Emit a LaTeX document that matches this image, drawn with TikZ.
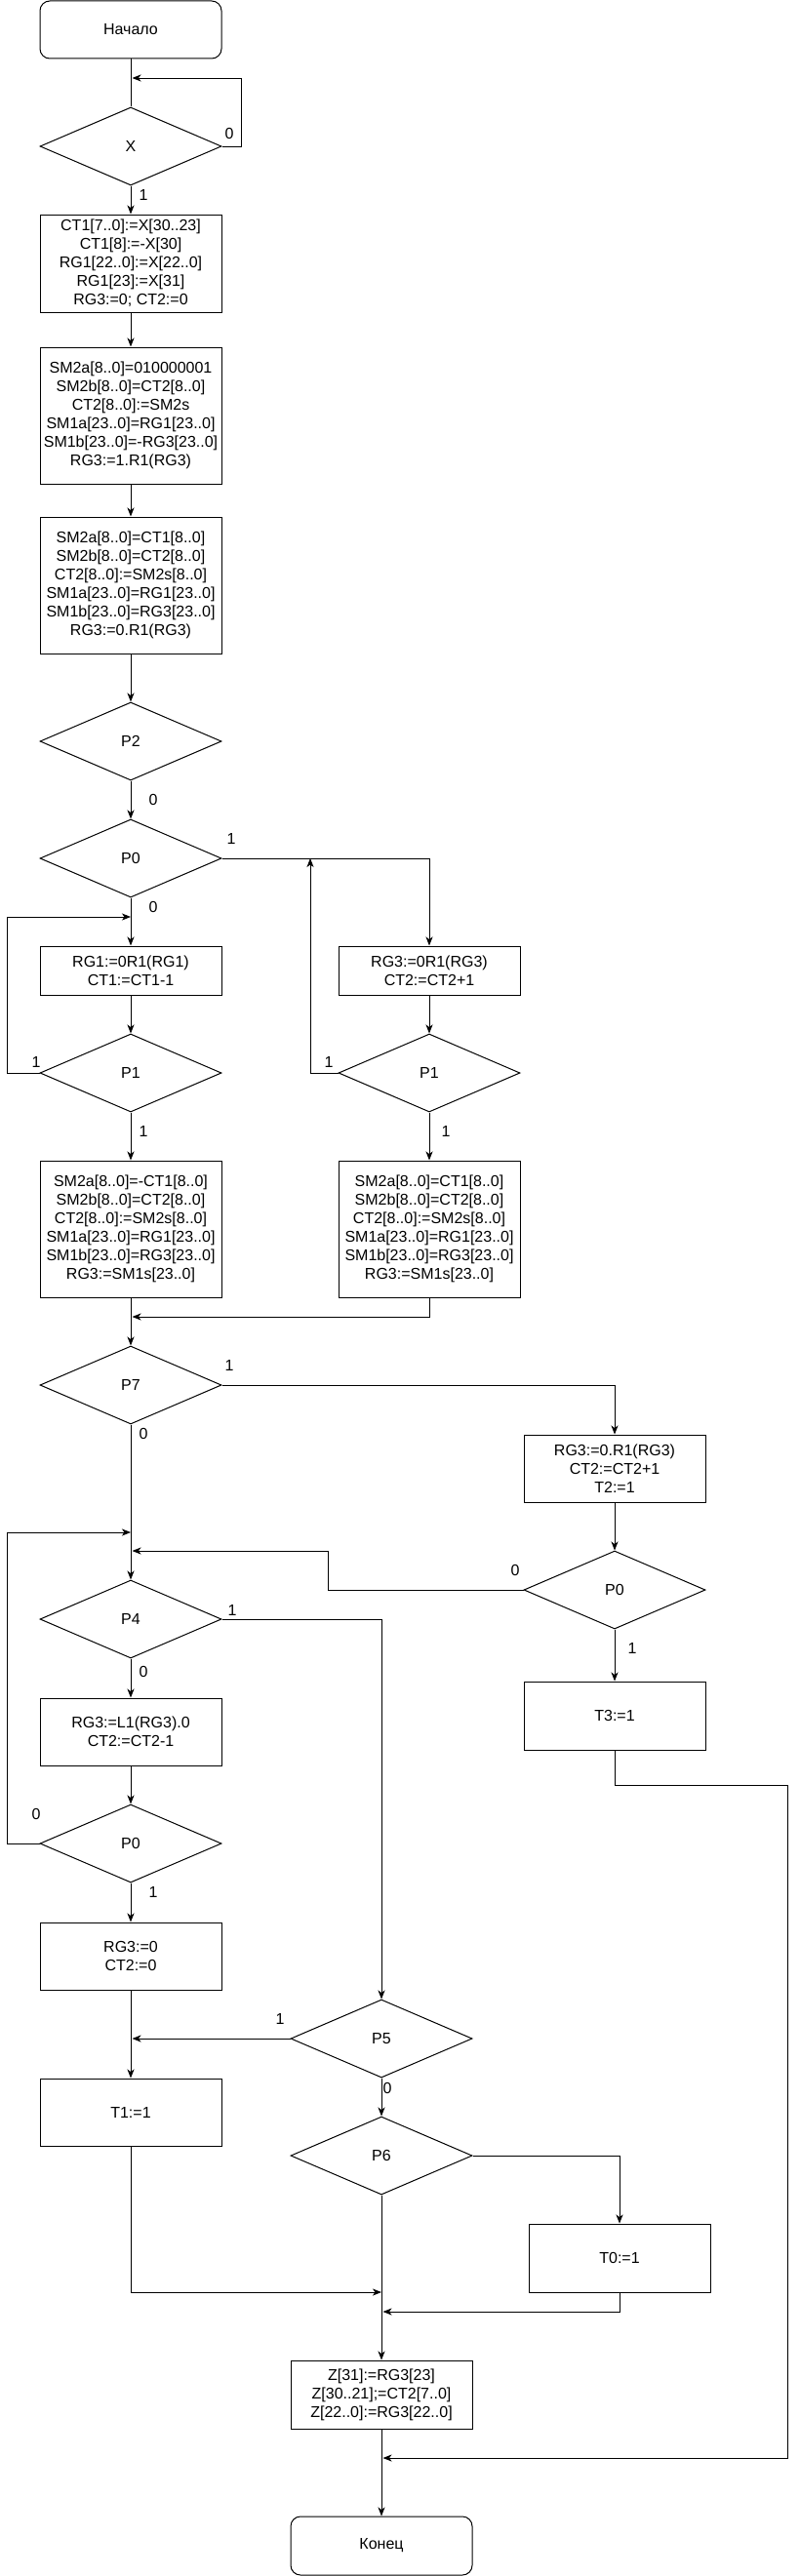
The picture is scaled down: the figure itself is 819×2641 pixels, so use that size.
\documentclass[tikz,border=0pt]{standalone}
\usepackage{fontspec}
\setmainfont{Liberation Sans}
\usetikzlibrary{shapes.geometric,arrows.meta}
\begin{document}
\begin{tikzpicture}[x=1pt,y=-1pt,
  every node/.style={font=\fontsize{16}{19}\selectfont},
  box/.style={draw,line width=1pt,minimum width=186pt,align=center,inner sep=0pt},
  term/.style={box,rounded corners=10pt},
  dec/.style={draw,line width=1pt,diamond,minimum width=186pt,minimum height=80pt,inner sep=0pt},
  lbl/.style={inner sep=0pt},
  ln/.style={line width=0.9pt},
  arr/.style={ln,-{Stealth[length=9pt,width=7pt,inset=2.5pt]}}
]
\useasboundingbox (0,0) rectangle (819,2641);
% nodes
\node[term,minimum height=59pt] (start) at (134,30.5) {Начало};
\node[dec] (X) at (134,150) {X};
\node[box,minimum height=100pt] (b1) at (134,270) {CT1[7..0]:=X[30..23]\\CT1[8]:=-X[30]\\RG1[22..0]:=X[22..0]\\RG1[23]:=X[31]\\RG3:=0; CT2:=0};
\node[box,minimum height=140pt] (b2) at (134,426) {SM2a[8..0]=010000001\\SM2b[8..0]=CT2[8..0]\\CT2[8..0]:=SM2s\\SM1a[23..0]=RG1[23..0]\\SM1b[23..0]=-RG3[23..0]\\RG3:=1.R1(RG3)};
\node[box,minimum height=140pt] (b3) at (134,600) {SM2a[8..0]=CT1[8..0]\\SM2b[8..0]=CT2[8..0]\\CT2[8..0]:=SM2s[8..0]\\SM1a[23..0]=RG1[23..0]\\SM1b[23..0]=RG3[23..0]\\RG3:=0.R1(RG3)};
\node[dec] (P2) at (134,760) {P2};
\node[dec] (P0a) at (134,880) {P0};
\node[box,minimum height=50pt] (bL1) at (134,995) {RG1:=0R1(RG1)\\CT1:=CT1-1};
\node[box,minimum height=50pt] (bR1) at (440,995) {RG3:=0R1(RG3)\\CT2:=CT2+1};
\node[dec] (P1L) at (134,1100) {P1};
\node[dec] (P1R) at (440,1100) {P1};
\node[box,minimum height=140pt] (SML) at (134,1260) {SM2a[8..0]=-CT1[8..0]\\SM2b[8..0]=CT2[8..0]\\CT2[8..0]:=SM2s[8..0]\\SM1a[23..0]=RG1[23..0]\\SM1b[23..0]=RG3[23..0]\\RG3:=SM1s[23..0]};
\node[box,minimum height=140pt] (SMR) at (440,1260) {SM2a[8..0]=CT1[8..0]\\SM2b[8..0]=CT2[8..0]\\CT2[8..0]:=SM2s[8..0]\\SM1a[23..0]=RG1[23..0]\\SM1b[23..0]=RG3[23..0]\\RG3:=SM1s[23..0]};
\node[dec] (P7) at (134,1420) {P7};
\node[box,minimum height=69pt] (T2) at (630,1505.5) {RG3:=0.R1(RG3)\\CT2:=CT2+1\\T2:=1};
\node[dec] (P0b) at (630,1630) {P0};
\node[dec] (P4) at (134,1660) {P4};
\node[box,minimum height=70pt] (T3) at (630,1759) {T3:=1};
\node[box,minimum height=69pt] (L1) at (134,1775.5) {RG3:=L1(RG3).0\\CT2:=CT2-1};
\node[dec] (P0c) at (134,1890) {P0};
\node[box,minimum height=69pt] (R0) at (134,2005.5) {RG3:=0\\CT2:=0};
\node[dec] (P5) at (391,2090) {P5};
\node[box,minimum height=69pt] (T1) at (134,2165.5) {T1:=1};
\node[dec] (P6) at (391,2210) {P6};
\node[box,minimum height=70pt] (T0) at (635,2315) {T0:=1};
\node[box,minimum height=70pt] (Z) at (391,2455) {Z[31]:=RG3[23]\\Z[30..21];=CT2[7..0]\\Z[22..0]:=RG3[22..0]};
\node[term,minimum height=60pt] (end) at (391,2610) {Конец};
% junction coordinates
\coordinate (jX) at (135.5,80);
\coordinate (cX) at (247,80);
\coordinate (jL) at (134,940);
\coordinate (cL) at (7,940);
\coordinate (jR) at (318,880);
\coordinate (jM) at (135.5,1350);
\coordinate (jA) at (134,1571);
\coordinate (cA) at (7,1571);
\coordinate (jB) at (135.5,1590);
\coordinate (cB) at (336,1590);
\coordinate (jC) at (135.5,2090);
\coordinate (jD) at (391,2350);
\coordinate (jE) at (392.5,2370);
\coordinate (cF) at (807,1830);
\coordinate (jF) at (392.5,2520);
% connectors
\draw[ln] (start) -- (X);
\draw[arr] (X.east) -| (cX) -- (jX);
\draw[arr] (X) -- (b1);
\draw[arr] (b1) -- (b2);
\draw[arr] (b2) -- (b3);
\draw[arr] (b3) -- (P2);
\draw[arr] (P2) -- (P0a);
\draw[arr] (P0a) -- (bL1);
\draw[arr] (P0a.east) -| (bR1.north);
\draw[arr] (bL1) -- (P1L);
\draw[arr] (bR1) -- (P1R);
\draw[arr] (P1L.west) -| (cL) -- (jL);
\draw[arr] (P1R.west) -| (jR);
\draw[arr] (P1L) -- (SML);
\draw[arr] (P1R) -- (SMR);
\draw[arr] (SML) -- (P7);
\draw[arr] (SMR.south) |- (jM);
\draw[arr] (P7.east) -| (T2.north);
\draw[arr] (P7) -- (P4);
\draw[arr] (T2) -- (P0b);
\draw[arr] (P0b.west) -| (cB) -- (jB);
\draw[arr] (P0b) -- (T3);
\draw[arr] (P4.east) -| (P5.north);
\draw[arr] (P4) -- (L1);
\draw[arr] (L1) -- (P0c);
\draw[arr] (P0c.west) -| (cA) -- (jA);
\draw[arr] (P0c) -- (R0);
\draw[arr] (R0) -- (T1);
\draw[arr] (P5.west) -- (jC);
\draw[arr] (P5) -- (P6);
\draw[arr] (P6.east) -| (T0.north);
\draw[arr] (T1.south) |- (jD);
\draw[arr] (T0.south) |- (jE);
\draw[arr] (P6) -- (Z);
\draw[arr] (T3.south) |- (cF) |- (jF);
\draw[arr] (Z) -- (end);
% labels
\node[lbl] (l1) at (235,137) {0};
\node[lbl] (l2) at (147,200) {1};
\node[lbl] (l3) at (157,820) {0};
\node[lbl] (l4) at (237,860) {1};
\node[lbl] (l5) at (157,930) {0};
\node[lbl] (l6) at (37,1089) {1};
\node[lbl] (l7) at (337,1089) {1};
\node[lbl] (l8) at (147,1160) {1};
\node[lbl] (l9) at (457,1160) {1};
\node[lbl] (l10) at (235,1400) {1};
\node[lbl] (l11) at (147,1470) {0};
\node[lbl] (l12) at (528,1610) {0};
\node[lbl] (l13) at (648,1690) {1};
\node[lbl] (l14) at (238,1651) {1};
\node[lbl] (l15) at (147,1714) {0};
\node[lbl] (l16) at (37,1860) {0};
\node[lbl] (l17) at (157,1940) {1};
\node[lbl] (l18) at (287,2070) {1};
\node[lbl] (l19) at (397,2141) {0};
\end{tikzpicture}
\end{document}
